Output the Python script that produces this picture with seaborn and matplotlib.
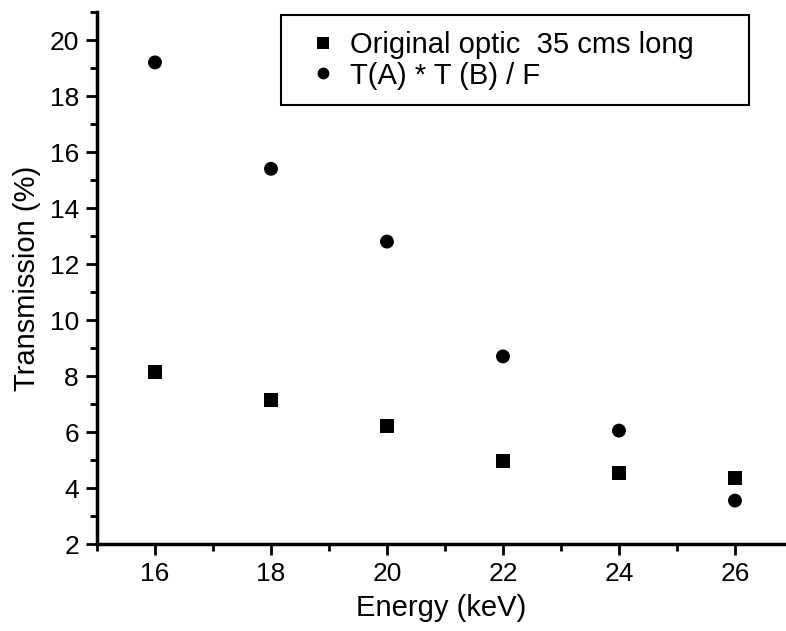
import matplotlib
matplotlib.use("Agg")
import matplotlib.pyplot as plt
import seaborn as sns
import pandas as pd
from matplotlib.ticker import MultipleLocator

energy = [16, 18, 20, 22, 24, 26]
original = [8.15, 7.15, 6.2, 4.95, 4.55, 4.35]
product = [19.2, 15.4, 12.8, 8.7, 6.05, 3.55]
label_orig = "Original optic  35 cms long"
label_prod = "T(A) * T (B) / F"

df = pd.DataFrame({
    "Energy": energy + energy,
    "Transmission": original + product,
    "Series": [label_orig] * len(energy) + [label_prod] * len(energy),
})

sns.set_theme(style="ticks")
plt.rcParams['font.family'] = ['Liberation Sans', 'DejaVu Sans']
plt.rcParams['text.color'] = 'black'

fig = plt.figure(figsize=(7.86, 6.31), dpi=100)
ax = fig.add_axes([97/786, 87/631, 689/786, 532/631])

sns.scatterplot(data=df, x="Energy", y="Transmission", style="Series",
                markers={label_orig: "s", label_prod: "o"},
                color="black", s=100, edgecolor="black", linewidth=0, ax=ax)

ax.set_xlim(15, 26.88)
ax.set_ylim(2, 21)
ax.xaxis.set_major_locator(MultipleLocator(2))
ax.xaxis.set_minor_locator(MultipleLocator(1))
ax.yaxis.set_major_locator(MultipleLocator(2))
ax.yaxis.set_minor_locator(MultipleLocator(1))
ax.tick_params(axis="both", which="major", direction="out", length=8, width=2,
               labelsize=19, color="black", labelcolor="black", pad=5)
ax.tick_params(axis="both", which="minor", direction="out", length=5, width=2, color="black")
for side in ["top", "right"]:
    ax.spines[side].set_visible(False)
for side in ["left", "bottom"]:
    ax.spines[side].set_linewidth(2.5)
    ax.spines[side].set_color("black")

ax.set_xlabel("Energy (keV)", fontsize=21, labelpad=6, color="black")
ax.set_ylabel("Transmission (%)", fontsize=21, labelpad=6, color="black")

leg = ax.legend(loc="upper left", bbox_to_anchor=(0.267, 0.994, 0.679, 0.0),
                mode="expand", fontsize=21, frameon=True, fancybox=False,
                edgecolor="black", framealpha=1, borderpad=0.54, borderaxespad=0,
                handlelength=1.82, handletextpad=0.0, labelspacing=0.09,
                markerscale=0.85)
leg.get_frame().set_linewidth(1.5)
for t in leg.get_texts():
    t.set_color("black")

fig.savefig("out.png", dpi=100)
